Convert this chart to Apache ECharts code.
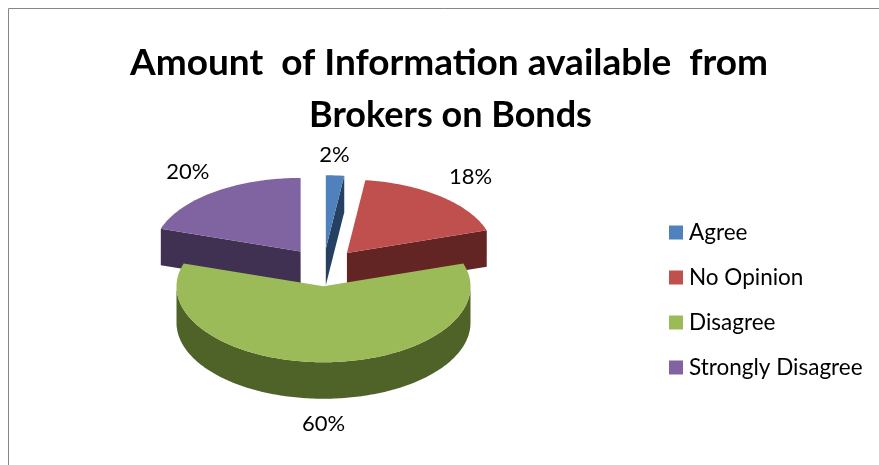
<!DOCTYPE html>
<html><head><meta charset="utf-8">
<style>html,body{margin:0;padding:0;background:#fff}#c{width:879px;height:465px}</style>
<script src="https://cdn.jsdelivr.net/npm/echarts@6/dist/echarts.min.js"></script>
</head><body><div id="c"></div>
<script>
const categories = ['Agree', 'No Opinion', 'Disagree', 'Strongly Disagree'];
const values = [2, 18, 60, 20];
const topColors = ['#4F81BD', '#C0504D', '#9BBB59', '#8064A2'];
const sideColors = ['#254061', '#632523', '#4F6228', '#403152'];
const titleLines = ['Amount  of Information available  from', 'Brokers on Bonds'];
const paintOrder = [2, 3, 4, 1];
const explode = [0.25, 0.25, 0.25, 0.265];
const labelNudge = [[-3, 0], [0, 0], [0, 0], [0, 0]];
const labelFactor = [1.5, 1.57, 1.6, 1.57];

const pie = { cx: 323.5, cy: 267.5, rx: 147, ry: 75, ryBack: 73.5, ryFront: 76, depth: 36.5 };
const total = values.reduce((a, b) => a + b, 0);
const rad = d => d * Math.PI / 180;

function sliceGroup(i, value) {
  const before = values.slice(0, i).reduce((a, b) => a + b, 0);
  const a0 = before / total * 360, a1 = (before + value) / total * 360, mid = (a0 + a1) / 2;
  const ox = pie.cx + explode[i] * pie.rx * Math.sin(rad(mid));
  const oy = pie.cy - explode[i] * pie.ry * Math.cos(rad(mid));
  const pt = (a, d) => {
    const c = Math.cos(rad(a));
    return [ox + pie.rx * Math.sin(rad(a)), oy - (c > 0 ? pie.ryBack : pie.ryFront) * c + (d || 0)];
  };
  const arc = (s, e, d) => { const out = []; const n = Math.max(2, Math.ceil(Math.abs(e - s))); for (let k = 0; k <= n; k++) out.push(pt(s + (e - s) * k / n, d)); return out; };
  const children = [];
  const side = { fill: sideColors[i] };
  const quad = a => ({ type: 'polygon', shape: { points: [[ox, oy], pt(a), pt(a, pie.depth), [ox, oy + pie.depth]] }, style: side });
  if (Math.sin(rad(a0)) < -1e-6) children.push(quad(a0));
  if (Math.sin(rad(a1)) > 1e-6) children.push(quad(a1));
  const rs = Math.max(a0, 90), re = Math.min(a1, 270);
  if (re > rs) children.push({ type: 'polygon', shape: { points: arc(rs, re, 0).concat(arc(re, rs, pie.depth)) }, style: side });
  children.push({ type: 'polygon', shape: { points: [[ox, oy]].concat(arc(a0, a1, 0)) }, style: { fill: topColors[i] } });
  const k = labelFactor[i];
  const drop = Math.cos(rad(mid)) < 0 ? pie.depth : 0;
  children.push({ type: 'text', style: {
    text: value + '%', font: '22px Lato', fill: '#000', align: 'center', verticalAlign: 'middle',
    x: pie.cx + k * pie.rx * Math.sin(rad(mid)) + labelNudge[i][0],
    y: pie.cy - k * pie.ry * Math.cos(rad(mid)) + drop + labelNudge[i][1]
  } });
  return { type: 'group', children };
}

const chart = echarts.init(document.getElementById('c'), null, { renderer: 'canvas' });
chart.setOption({
  animation: false,
  backgroundColor: '#fff',
  graphic: [
    { type: 'rect', silent: true, z: -1, shape: { x: 8.5, y: 8.5, width: 900, height: 500 }, style: { fill: 'none', stroke: '#868686', lineWidth: 1 } },
    { type: 'text', silent: true, style: { text: titleLines[0], x: 449, y: 63, align: 'center', verticalAlign: 'middle', font: 'bold 37px Lato', fill: '#000' } },
    { type: 'text', silent: true, style: { text: titleLines[1], x: 450.5, y: 115, align: 'center', verticalAlign: 'middle', font: 'bold 36px Lato', fill: '#000' } }
  ],
  legend: {
    orient: 'vertical', left: 669, top: 221, padding: 0, itemWidth: 14, itemHeight: 14, itemGap: 22, icon: 'rect',
    selectedMode: false, data: categories,
    textStyle: { fontFamily: 'Lato', fontSize: 22.5, color: '#000', padding: [0, 0, 0, 1], lineHeight: 14 }
  },
  series: categories.map((name, i) => ({
    type: 'custom', name, coordinateSystem: 'none', z: paintOrder[i], silent: true,
    itemStyle: { color: topColors[i] },
    data: [values[i]],
    renderItem: (params, api) => sliceGroup(i, api.value(0))
  }))
});
</script></body></html>
